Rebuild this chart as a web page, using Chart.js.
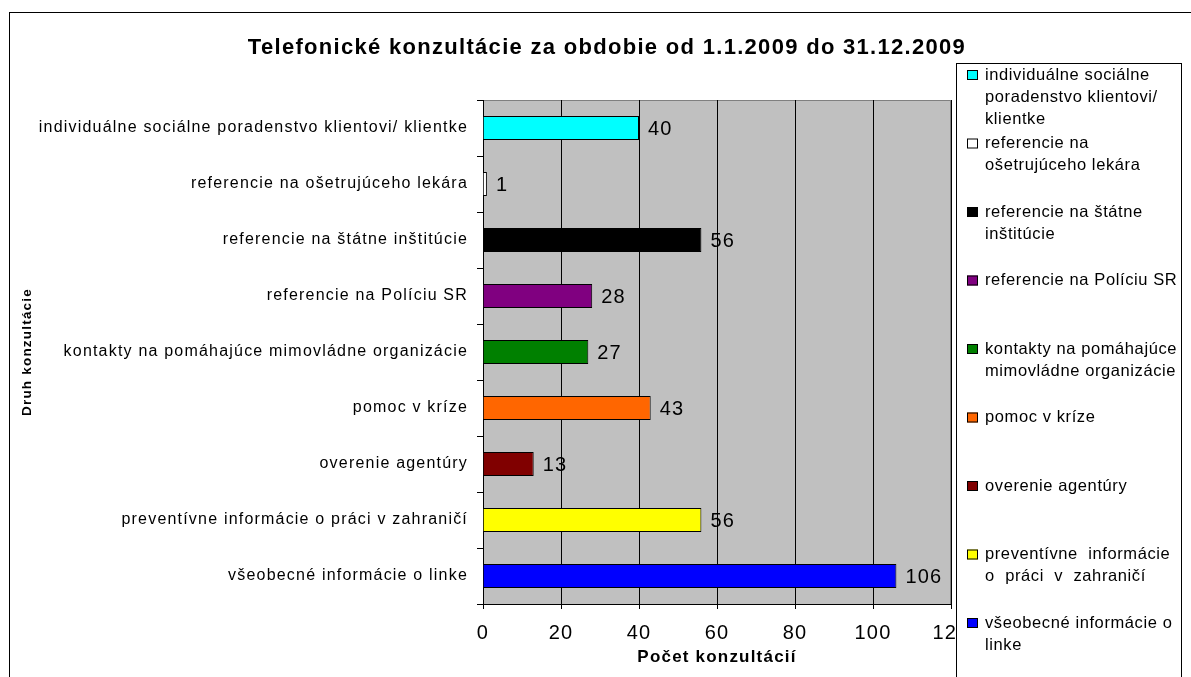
<!DOCTYPE html>
<html>
<head>
<meta charset="utf-8">
<script src="https://cdn.jsdelivr.net/npm/chart.js@4.4.0/dist/chart.umd.min.js"></script>
<style>
  html, body { margin: 0; padding: 0; background: #fff; }
</style>
</head>
<body>
<canvas id="consultChart" width="1191" height="677"></canvas>
<script>
const chartTitle = 'Telefonické konzultácie za obdobie od 1.1.2009 do 31.12.2009';
const xTitle = 'Počet konzultácií';
const yTitle = 'Druh konzultácie';

const categories = [
    'individuálne sociálne poradenstvo klientovi/ klientke',
    'referencie na ošetrujúceho lekára',
    'referencie na štátne inštitúcie',
    'referencie na Políciu SR',
    'kontakty na pomáhajúce mimovládne organizácie',
    'pomoc v kríze',
    'overenie agentúry',
    'preventívne informácie o práci v zahraničí',
    'všeobecné informácie o linke'
];
// same names, broken the way the legend box shows them
const legendLines = [
    ['individuálne sociálne', 'poradenstvo klientovi/', 'klientke'],
    ['referencie na', 'ošetrujúceho lekára'],
    ['referencie na štátne', 'inštitúcie'],
    ['referencie na Políciu SR'],
    ['kontakty na pomáhajúce', 'mimovládne organizácie'],
    ['pomoc v kríze'],
    ['overenie agentúry'],
    ['preventívne  informácie', 'o  práci  v  zahraničí'],
    ['všeobecné informácie o', 'linke']
];
const counts = [40, 1, 56, 28, 27, 43, 13, 56, 106];
const barColors = ['#00ffff', '#ffffff', '#000000', '#800080', '#008000', '#ff6600', '#800000', '#ffff00', '#0000ff'];
const xTicks = [0, 20, 40, 60, 80, 100, 120];

const FONT = "'Liberation Sans', Arial, sans-serif";

// grey plot area, outer frame and title
const backdrop = {
    id: 'backdrop',
    beforeDraw(chart) {
        const ctx = chart.ctx;
        const a = chart.chartArea;
        ctx.save();
        ctx.fillStyle = '#fff';
        ctx.fillRect(0, 0, chart.width, chart.height);
        ctx.strokeStyle = '#000';
        ctx.lineWidth = 1;
        ctx.strokeRect(9.5, 12.5, chart.width, chart.height);
        ctx.fillStyle = '#c0c0c0';
        ctx.fillRect(a.left, a.top, a.right - a.left, a.bottom - a.top);
        ctx.strokeStyle = '#808080';
        ctx.strokeRect(a.left + 0.5, a.top + 0.5, a.right - a.left - 1, a.bottom - a.top);
        ctx.fillStyle = '#000';
        ctx.font = 'bold 22px ' + FONT;
        ctx.letterSpacing = '1.3px';
        ctx.textAlign = 'center';
        ctx.textBaseline = 'middle';
        ctx.fillText(chartTitle, 607, 48);
        ctx.restore();
        // the old Excel text runs wide, so space out the axis texts a bit
        ctx.letterSpacing = '1.2px';
    }
};

const valueLabels = {
    id: 'valueLabels',
    afterDatasetsDraw(chart) {
        const ctx = chart.ctx;
        const meta = chart.getDatasetMeta(0);
        ctx.save();
        ctx.font = '20px ' + FONT;
        ctx.letterSpacing = '1.2px';
        ctx.fillStyle = '#000';
        ctx.textAlign = 'left';
        ctx.textBaseline = 'middle';
        meta.data.forEach((bar, i) => {
            ctx.fillText(String(counts[i]), bar.x + 9, bar.y + 1);
        });
        ctx.restore();
    }
};

// legend box on the right, one slot per category
const sideLegend = {
    id: 'sideLegend',
    afterDraw(chart) {
        const ctx = chart.ctx;
        const left = 956.5, top = 63.5, right = 1181.5;
        ctx.save();
        ctx.fillStyle = '#fff';
        ctx.fillRect(left, top, right - left, chart.height);
        ctx.strokeStyle = '#000';
        ctx.lineWidth = 1;
        ctx.strokeRect(left, top, right - left, chart.height + 10);
        ctx.font = '16.5px ' + FONT;
        ctx.letterSpacing = '0.6px';
        ctx.textAlign = 'left';
        ctx.textBaseline = 'middle';
        categories.forEach((name, i) => {
            const y = 75 + i * 68.5;
            ctx.fillStyle = barColors[i];
            ctx.fillRect(967, y - 5, 11, 10);
            ctx.strokeStyle = '#000';
            ctx.strokeRect(967.5, y - 4.5, 10, 9);
            ctx.fillStyle = '#000';
            legendLines[i].forEach((line, j) => {
                ctx.fillText(line, 985, y + j * 22);
            });
        });
        ctx.restore();
        ctx.letterSpacing = '0px';
    }
};

new Chart(document.getElementById('consultChart'), {
    type: 'bar',
    data: {
        labels: categories,
        datasets: [{
            data: counts,
            backgroundColor: barColors,
            borderColor: '#000',
            borderWidth: 1,
            barPercentage: 0.43,
            categoryPercentage: 1
        }]
    },
    options: {
        indexAxis: 'y',
        responsive: false,
        animation: false,
        layout: {
            padding: { left: 10, top: 100, right: 240, bottom: 0 }
        },
        plugins: {
            legend: { display: false },
            tooltip: { enabled: false }
        },
        scales: {
            x: {
                min: xTicks[0],
                max: xTicks[xTicks.length - 1],
                afterFit: (scale) => { scale.height = 73; },
                ticks: {
                    stepSize: xTicks[1] - xTicks[0],
                    color: '#000',
                    padding: 12,
                    font: { family: FONT, size: 20 }
                },
                grid: {
                    color: '#000',
                    tickColor: '#000',
                    tickLength: 5
                },
                border: { color: '#000', width: 1 },
                title: {
                    display: true,
                    text: xTitle,
                    color: '#000',
                    padding: { top: 0, bottom: 9 },
                    font: { family: FONT, size: 17, weight: 'bold' }
                }
            },
            y: {
                afterFit: (scale) => { scale.width = 473; },
                ticks: {
                    color: '#000',
                    padding: 9,
                    font: { family: FONT, size: 16 }
                },
                grid: {
                    drawOnChartArea: false,
                    color: '#000',
                    tickLength: 6
                },
                border: { color: '#000', width: 1 },
                title: {
                    display: true,
                    text: yTitle,
                    color: '#000',
                    padding: { top: 9, bottom: 0 },
                    font: { family: FONT, size: 13.5, weight: 'bold' }
                }
            }
        }
    },
    plugins: [backdrop, valueLabels, sideLegend]
});
</script>
</body>
</html>
